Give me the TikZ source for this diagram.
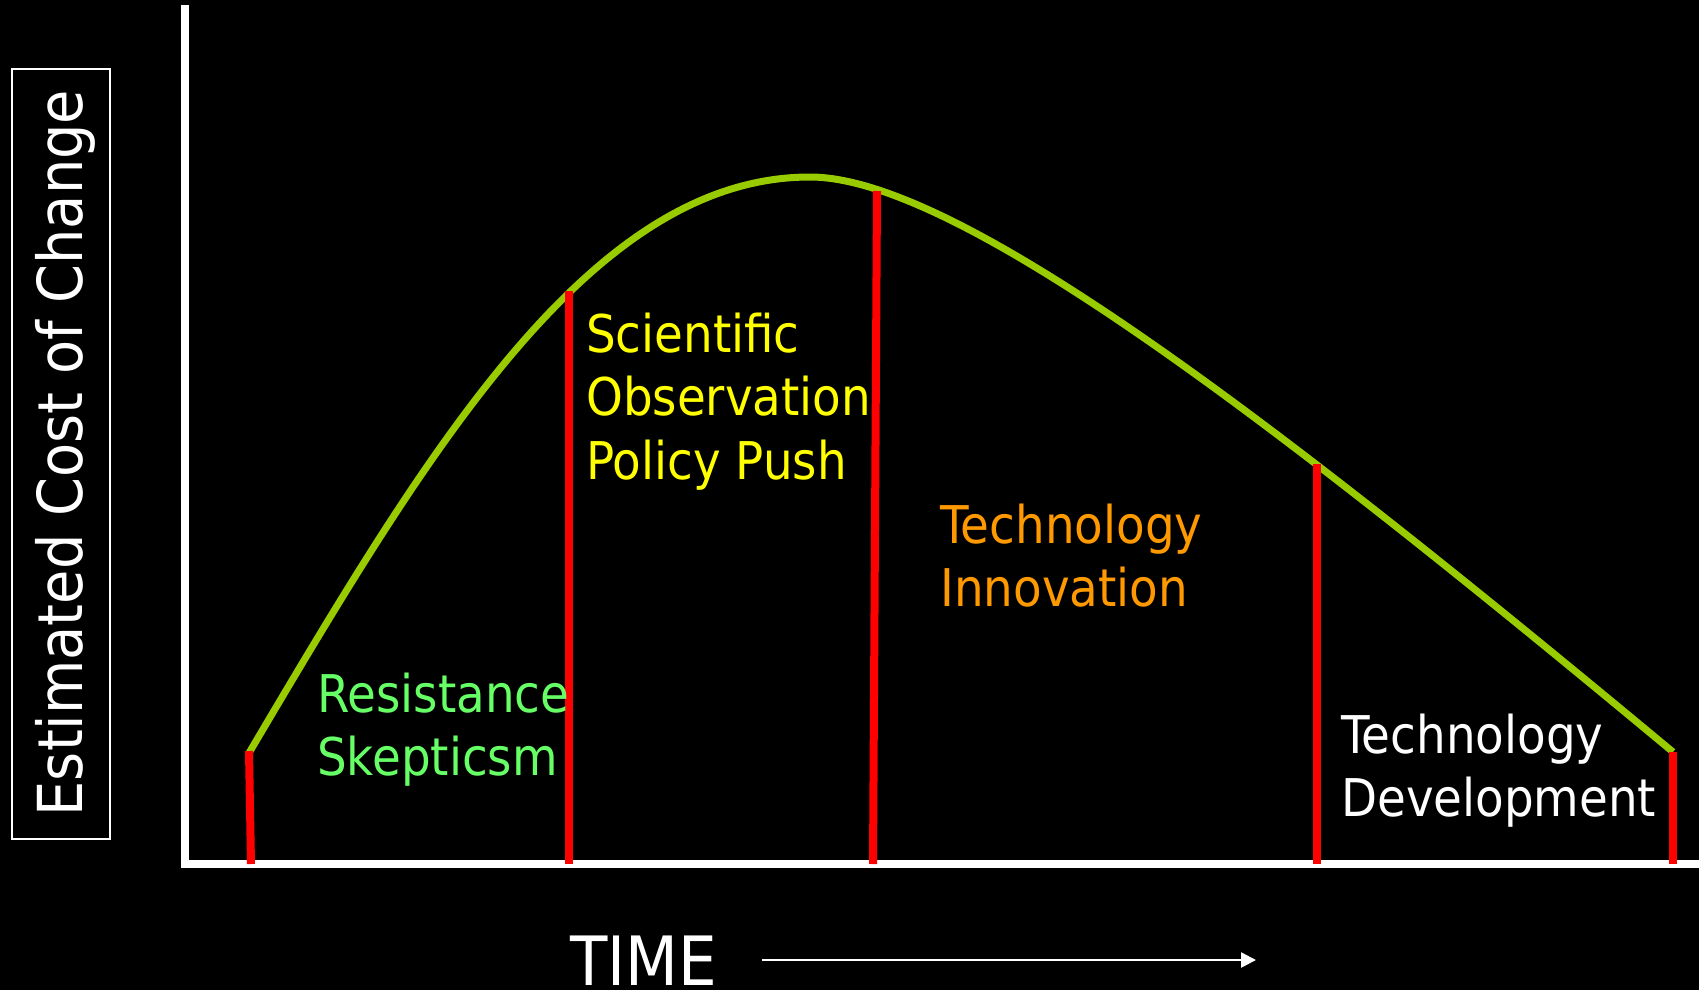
\documentclass[tikz,border=0pt]{standalone}
\usepackage{fontspec}
\setmainfont{DejaVu Sans}[FakeStretch=0.9]
\usetikzlibrary{arrows.meta}
\definecolor{curvegreen}{HTML}{99CC00}
\definecolor{barred}{HTML}{FF0000}
\definecolor{txtyellow}{HTML}{FFFF00}
\definecolor{txtorange}{HTML}{FF9900}
\definecolor{txtgreen}{HTML}{66FF66}
\tikzset{
  axisline/.style={draw=white, line width=7.5pt},
  costcurve/.style={draw=curvegreen, line width=7pt},
  phasebar/.style={draw=barred, line width=8pt},
  lbl/.style={anchor=base west, inner sep=0pt, font=\fontsize{52}{60}\selectfont},
}
\begin{document}
\begin{tikzpicture}[x=1pt,y=-1pt]
\fill[black] (0,0) rectangle (1699,990);
\useasboundingbox (0,0) rectangle (1699,990);

% axes
\coordinate (ytop) at (185,5);
\coordinate (ybot) at (185,867);
\coordinate (xleft) at (181,864);
\coordinate (xright) at (1699,864);
\draw[axisline] (ytop) -- (ybot);
\draw[axisline] (xleft) -- (xright);

% y-axis label in box
\draw[white, line width=1.8pt] (12,69) rectangle (110,839);
\node[rotate=90, anchor=base, inner sep=0pt, text=white, font=\fontsize{62}{70}\selectfont] (ylabel) at (82,453) {Estimated Cost of Change};

% curve
\coordinate (cstart) at (249,753);
\coordinate (cpeak) at (810,177);
\coordinate (cend) at (1673,752);
\draw[costcurve, line cap=butt] (cstart) .. controls (427,452) and (590,177) .. (cpeak)
  .. controls (960,177) and (1288,432) .. (cend);

% phase bars
\coordinate (t1) at (249,751); \coordinate (b1) at (251,864);
\coordinate (t2) at (569,291); \coordinate (b2) at (569,864);
\coordinate (t3) at (877,191); \coordinate (b3) at (873,864);
\coordinate (t4) at (1317,464); \coordinate (b4) at (1317,864);
\coordinate (t5) at (1673,752); \coordinate (b5) at (1673,864);
\foreach \i in {1,...,5} { \draw[phasebar] (t\i) -- (b\i); }

% labels
\node[lbl, text=txtgreen] (res) at (317,712) {Resistance};
\node[lbl, text=txtgreen] (ske) at (317,775) {Skepticsm};

\node[lbl, text=txtyellow] (sci) at (586,352) {Scientific};
\node[lbl, text=txtyellow] (obs) at (586,415) {Observation};
\node[lbl, text=txtyellow] (pol) at (586,479) {Policy Push};

\node[lbl, text=txtorange] (tec1) at (940,543) {Technology};
\node[lbl, text=txtorange] (inn) at (940,606) {Innovation};

\node[lbl, text=white] (tec2) at (1341,753) {Technology};
\node[lbl, text=white] (dev) at (1341,816) {Development};

% time axis label
\node[anchor=base west, inner sep=0pt, text=white, font=\fontsize{68}{72}\selectfont] (time) at (570,985) {TIME};
\coordinate (arrS) at (762,960);
\coordinate (arrE) at (1256,960);
\draw[white, line width=2.5pt, -{Triangle[length=15pt,width=15pt]}] (arrS) -- (arrE);
\end{tikzpicture}
\end{document}
